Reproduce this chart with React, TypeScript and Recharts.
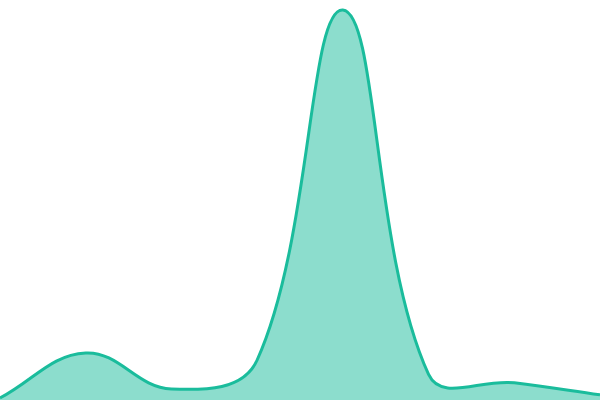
import React from "react";
import { AreaChart, Area, XAxis, YAxis } from "recharts";

const categories: string[] = ["1", "2", "3", "4", "5", "6", "7", "8"];
const values: number[] = [0.5, 11.75, 2.75, 10, 97.5, 6.4, 4.3, 1.3];

const data = categories.map((c, i) => ({ c, v: values[i] }));

// Smooth curve in the style of a tension-based cubic spline (control points from neighbours, pixel distances)
function tensionCurve(tension: number) {
  return function (context: any) {
    let line: number = NaN;
    let pts: [number, number][] = [];
    return {
      areaStart() {
        line = 0;
      },
      areaEnd() {
        line = NaN;
      },
      lineStart() {
        pts = [];
      },
      lineEnd() {
        const n = pts.length;
        if (n) {
          if (line) context.lineTo(pts[0][0], pts[0][1]);
          else context.moveTo(pts[0][0], pts[0][1]);
          const cp = pts.map((p, i) => {
            const p0 = pts[i - 1] || p;
            const p2 = pts[i + 1] || p;
            const d01 = Math.hypot(p[0] - p0[0], p[1] - p0[1]);
            const d12 = Math.hypot(p2[0] - p[0], p2[1] - p[1]);
            const sum = d01 + d12;
            const s01 = sum ? d01 / sum : 0;
            const s12 = sum ? d12 / sum : 0;
            const fa = tension * s01;
            const fb = tension * s12;
            return {
              px: p[0] - fa * (p2[0] - p0[0]),
              py: p[1] - fa * (p2[1] - p0[1]),
              nx: p[0] + fb * (p2[0] - p0[0]),
              ny: p[1] + fb * (p2[1] - p0[1]),
            };
          });
          for (let i = 1; i < n; i++) {
            context.bezierCurveTo(cp[i - 1].nx, cp[i - 1].ny, cp[i].px, cp[i].py, pts[i][0], pts[i][1]);
          }
        }
        if (line || (line !== 0 && n === 1)) context.closePath();
        line = 1 - line;
      },
      point(x: number, y: number) {
        pts.push([+x, +y]);
      },
    };
  };
}

const curve = tensionCurve(0.4);

export default function App() {
  return (
    <div style={{ position: "absolute", left: 0, top: 0, width: 600, height: 400 }}>
      <AreaChart width={600} height={400} data={data} margin={{ top: 0, right: 0, bottom: 0, left: 0 }}>
        <XAxis dataKey="c" hide />
        <YAxis domain={[0, 100]} hide />
        <Area
          type={curve as any}
          dataKey="v"
          stroke="#1abc9c"
          strokeWidth={3}
          fill="#1abc9c"
          fillOpacity={0.5}
          isAnimationActive={false}
          dot={false}
          activeDot={false}
        />
      </AreaChart>
    </div>
  );
}
